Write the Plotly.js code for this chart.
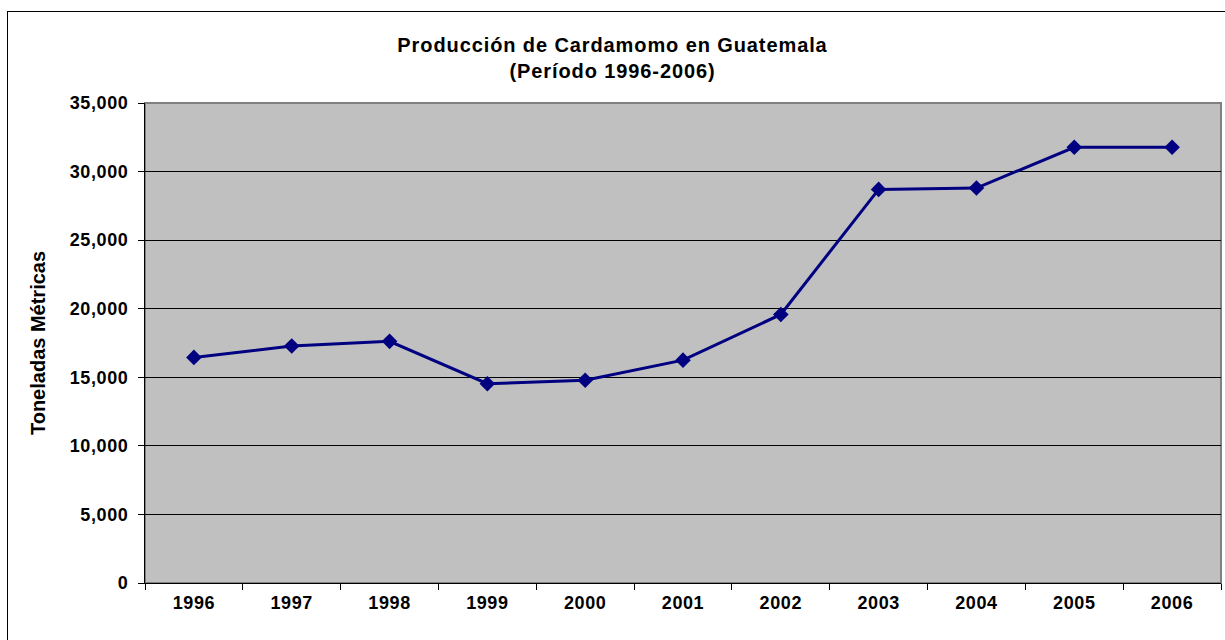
<!DOCTYPE html>
<html>
<head>
<meta charset="utf-8">
<script src="https://cdn.plot.ly/plotly-3.0.1.min.js"></script>
<style>
  html, body { margin: 0; padding: 0; background: #fff; overflow: hidden; }
  #chart { width: 1225px; height: 640px; position: relative; }
  #frame { position: absolute; left: 7px; top: 11px; width: 1230px; height: 640px; border: 1px solid #000; pointer-events: none; }
  .xtick text, .ytick text { letter-spacing: 0.6px; }
  .gtitle { letter-spacing: 0.9px; }
</style>
</head>
<body>
<div id="chart"></div>
<div id="frame"></div>
<script>
const years = ["1996","1997","1998","1999","2000","2001","2002","2003","2004","2005","2006"];
const production = [16450, 17280, 17620, 14530, 14780, 16250, 19580, 28700, 28800, 31770, 31770];
const yTicks = [0, 5000, 10000, 15000, 20000, 25000, 30000, 35000];

const font = "Liberation Sans, Arial, sans-serif";

const trace = {
  x: years,
  y: production,
  type: "scatter",
  mode: "lines+markers",
  line: { color: "#000080", width: 3 },
  marker: { symbol: "diamond", size: 12, color: "#000080" },
  hoverinfo: "x+y"
};

const layout = {
  width: 1225,
  height: 640,
  margin: { l: 145, r: 4, t: 103, b: 57 },
  paper_bgcolor: "#ffffff",
  plot_bgcolor: "#c0c0c0",
  showlegend: false,
  title: {
    text: "<b>Producción de Cardamomo en Guatemala<br>(Período 1996-2006)</b>",
    font: { family: font, size: 20, color: "#000" },
    x: 0.5, xref: "container", xanchor: "center",
    y: 0.9195, yref: "container", yanchor: "middle"
  },
  xaxis: {
    type: "category",
    categoryorder: "array",
    categoryarray: years,
    range: [-0.5, years.length - 0.5],
    tickson: "boundaries",
    ticks: "outside",
    ticklen: 6,
    tickwidth: 1,
    tickcolor: "#000",
    ticklabelstandoff: 3,
    showgrid: false,
    showline: true,
    linecolor: "#000",
    linewidth: 1,
    tickfont: { family: font, size: 18, color: "#000", weight: "bold" },
    fixedrange: true
  },
  yaxis: {
    range: [0, 35000],
    tickvals: yTicks,
    tickformat: ",d",
    ticks: "outside",
    ticklen: 6,
    tickwidth: 1,
    tickcolor: "#000",
    ticklabelstandoff: 6,
    showgrid: true,
    gridcolor: "#000",
    gridwidth: 1,
    zeroline: false,
    showline: true,
    linecolor: "#000",
    linewidth: 1,
    tickfont: { family: font, size: 18, color: "#000", weight: "bold" },
    title: {
      text: "<b>Toneladas Métricas</b>",
      font: { family: font, size: 20, color: "#000" },
      standoff: 18
    },
    fixedrange: true
  },
  shapes: [
    {
      type: "rect", xref: "paper", yref: "paper",
      x0: 0, x1: 1, y0: 0, y1: 1,
      line: { color: "#808080", width: 2 },
      layer: "below"
    }
  ]
};

Plotly.newPlot("chart", [trace], layout, { displayModeBar: false, staticPlot: true });
</script>
</body>
</html>
